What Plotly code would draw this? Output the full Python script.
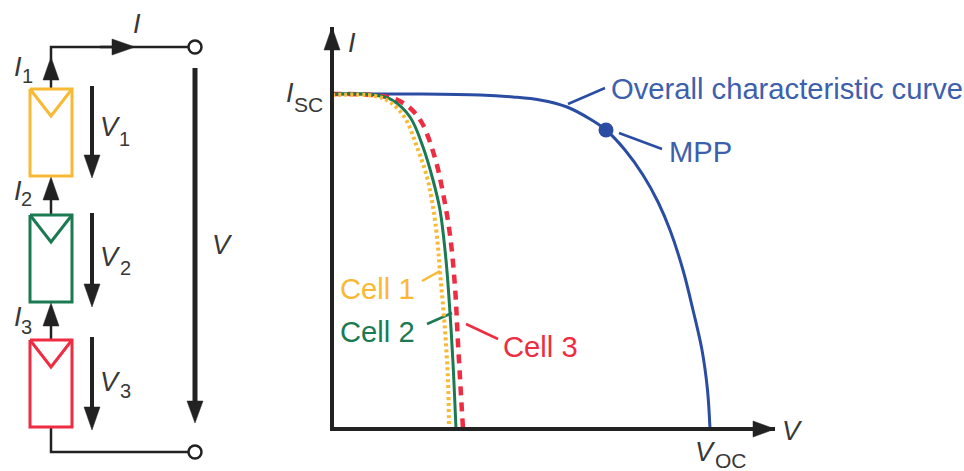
import plotly.graph_objects as go

# ---------- I-V data (arbitrary units: V_OC = 378, I_SC = 335) ----------
overall_v = [0, 88, 148, 181, 208, 235, 258, 274, 293, 311, 326, 338, 351, 361, 370, 375.5, 378]
overall_i = [335, 335, 334, 332, 329, 322, 310, 299, 279, 254, 227, 199, 159, 119, 79, 39, 0]
cell1_v = [0, 43, 58, 73, 85, 95, 101, 105, 108, 113, 116, 117]
cell1_i = [334, 333, 327, 311, 282, 252, 222, 192, 157, 99, 49, 0]
cell2_v = [0, 43, 60, 78, 91, 101, 108, 114, 118, 121, 124]
cell2_i = [335, 334, 329, 312, 282, 249, 219, 169, 116, 66, 0]
cell3_v = [0, 41, 63, 78, 90, 103, 111, 118, 123, 126, 131]
cell3_i = [335, 334, 330, 321, 306, 271, 236, 194, 142, 86, 0]
mpp_v = [274]
mpp_i = [299]

# ---------- colours ----------
BLUE, BLUE_T = "#2a4da3", "#3d60ad"
GOLD, GREEN, RED = "#f9b934", "#1b7a52", "#ee2c42"
INK = "#222222"
TXT = "#383838"
FONT = "Liberation Sans"

fig = go.Figure()


def canvas(x, y, color=INK, width=2.5, fill=None):
    fig.add_trace(go.Scatter(
        x=x, y=y, mode="lines", xaxis="x", yaxis="y", hoverinfo="skip",
        line=dict(color=color, width=width),
        fill="toself" if fill else "none", fillcolor=fill))


def arrow(x0, y0, x1, y1, width=4, head_len=23, half=8):
    """Stem from (x0,y0), head with its tip at (x1,y1) on an axis-aligned run."""
    dx = (x1 > x0) - (x1 < x0)
    dy = (y1 > y0) - (y1 < y0)
    bx, by = x1 - dx * head_len, y1 - dy * head_len
    canvas([x0, bx], [y0, by], width=width)
    canvas([bx - dy * half, x1, bx + dy * half, bx - dy * half],
           [by - dx * half, y1, by + dx * half, by - dx * half],
           width=0.5, fill=INK)


# ---------- circuit schematic ----------
canvas([51, 51, 188], [60, 47, 47])
canvas([51, 51, 188], [428, 452, 452])
arrow(100, 47, 135, 47, width=2.5, head_len=23)
arrow(51, 89, 51, 57, width=2.5)
arrow(51, 215, 51, 177, width=2.5)
arrow(51, 340, 51, 303, width=2.5)
arrow(92, 86, 92, 178)
arrow(92, 213, 92, 307)
arrow(92, 337, 92, 430)
arrow(195, 68, 195, 423, width=5, head_len=22)

for top, color in [(89, GOLD), (215, GREEN), (340, RED)]:
    canvas([30, 72, 72, 30, 30], [top, top, top + 87, top + 87, top], color=color, width=3)
    canvas([30, 51, 72], [top, top + 27, top], color=color, width=3)

fig.add_trace(go.Scatter(
    x=[195, 195], y=[47, 452], mode="markers", xaxis="x", yaxis="y", hoverinfo="skip",
    marker=dict(size=13, color="white", line=dict(color=INK, width=2.5))))

# ---------- leader lines ----------
canvas([568, 605], [104, 88], color=BLUE, width=2.5)
canvas([619, 662], [133, 149], color=BLUE, width=2.5)
canvas([422, 440], [281, 271], color=GOLD, width=2.5)
canvas([427, 452], [324, 313], color=GREEN, width=2.5)
canvas([466, 498], [324, 339], color=RED, width=2.5)

# axis arrowheads
canvas([753, 775, 753, 753], [421, 429, 437, 421], width=0.5, fill=INK)
canvas([324, 332, 340, 324], [50, 27, 50, 50], width=0.5, fill=INK)

# ---------- I-V curves ----------
for vs, cs, color, width, dash in [
    (overall_v, overall_i, BLUE, 3, "solid"),
    (cell3_v, cell3_i, RED, 4.5, "9px,7px"),
    (cell2_v, cell2_i, GREEN, 3, "solid"),
    (cell1_v, cell1_i, GOLD, 4, "3px,3px"),
]:
    fig.add_trace(go.Scatter(
        x=vs, y=cs, mode="lines", xaxis="x2", yaxis="y2", hoverinfo="skip",
        line=dict(color=color, width=width, dash=dash, shape="spline", smoothing=1.0),
        cliponaxis=False))
fig.add_trace(go.Scatter(
    x=mpp_v, y=mpp_i, mode="markers", xaxis="x2", yaxis="y2", hoverinfo="skip",
    marker=dict(size=15, color=BLUE)))

# ---------- text ----------
labels = [
    (137, 24, "<i>I</i>", 27, TXT, "center"),
    (18, 67, "<i>I</i>", 27, TXT, "center"),
    (22, 76, "1", 20, TXT, "left"),
    (18, 191, "<i>I</i>", 27, TXT, "center"),
    (21, 199, "2", 20, TXT, "left"),
    (18, 317, "<i>I</i>", 27, TXT, "center"),
    (21, 327, "3", 20, TXT, "left"),
    (110, 127, "<i>V</i>", 27, TXT, "center"),
    (124, 139, "1", 20, TXT, "center"),
    (110, 257, "<i>V</i>", 27, TXT, "center"),
    (125, 268, "2", 20, TXT, "center"),
    (110, 382, "<i>V</i>", 27, TXT, "center"),
    (125, 391, "3", 20, TXT, "center"),
    (222, 245, "<i>V</i>", 27, TXT, "center"),
    (352, 43, "<i>I</i>", 27, TXT, "center"),
    (290, 93, "<i>I</i>", 27, TXT, "center"),
    (294, 104, "SC", 21, TXT, "left"),
    (792, 431, "<i>V</i>", 27, TXT, "center"),
    (705, 452, "<i>V</i>", 27, TXT, "center"),
    (715, 460, "OC", 21, TXT, "left"),
    (611, 89, "Overall characteristic curve", 29.2, BLUE_T, "left"),
    (669, 152, "MPP", 29.2, BLUE_T, "left"),
    (340, 289, "Cell 1", 29.2, GOLD, "left"),
    (340, 332, "Cell 2", 29.2, GREEN, "left"),
    (503, 347, "Cell 3", 29.2, RED, "left"),
]
annotations = [
    dict(x=x, y=y, xref="x", yref="y", text=t, showarrow=False, xanchor=a, yanchor="middle",
         font=dict(family=FONT, size=s, color=c), borderpad=0, borderwidth=0)
    for x, y, t, s, c, a in labels
]

fig.update_layout(
    width=964, height=471, autosize=False,
    margin=dict(l=0, r=0, t=0, b=0),
    paper_bgcolor="white", plot_bgcolor="rgba(0,0,0,0)",
    showlegend=False, annotations=annotations,
    xaxis=dict(domain=[0, 1], range=[0, 964], visible=False, fixedrange=True),
    yaxis=dict(domain=[0, 1], range=[471, 0], visible=False, fixedrange=True),
    xaxis2=dict(domain=[334 / 964, 775 / 964], range=[2, 443], anchor="y2",
                showline=True, linecolor=INK, linewidth=4, showgrid=False, zeroline=False,
                showticklabels=False, ticks="", layer="below traces", fixedrange=True),
    yaxis2=dict(domain=[44 / 471, 444 / 471], range=[2, 402], anchor="x2",
                showline=True, linecolor=INK, linewidth=4, showgrid=False, zeroline=False,
                showticklabels=False, ticks="", layer="below traces", fixedrange=True),
)
fig.write_html("out.html", config=dict(displayModeBar=False),
               post_script="document.body.style.margin='0';document.documentElement.style.overflow='hidden';")
